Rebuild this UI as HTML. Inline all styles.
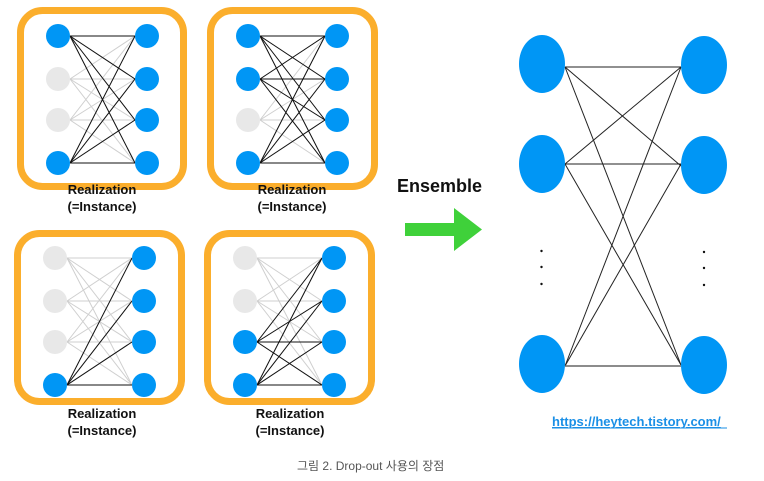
<!DOCTYPE html>
<html><head><meta charset="utf-8"><style>
html,body{margin:0;padding:0;background:#fff;}
svg{display:block;}
</style></head><body>
<svg width="764" height="481" viewBox="0 0 764 481" xmlns="http://www.w3.org/2000/svg">
<defs>
<g id="mesh" stroke="#cfcfcf" stroke-width="1">
<line x1="70" y1="36" x2="135" y2="36"/><line x1="70" y1="36" x2="135" y2="79"/><line x1="70" y1="36" x2="135" y2="120"/><line x1="70" y1="36" x2="135" y2="163"/>
<line x1="70" y1="79" x2="135" y2="36"/><line x1="70" y1="79" x2="135" y2="79"/><line x1="70" y1="79" x2="135" y2="120"/><line x1="70" y1="79" x2="135" y2="163"/>
<line x1="70" y1="120" x2="135" y2="36"/><line x1="70" y1="120" x2="135" y2="79"/><line x1="70" y1="120" x2="135" y2="120"/><line x1="70" y1="120" x2="135" y2="163"/>
<line x1="70" y1="163" x2="135" y2="36"/><line x1="70" y1="163" x2="135" y2="79"/><line x1="70" y1="163" x2="135" y2="120"/><line x1="70" y1="163" x2="135" y2="163"/>
</g>
<g id="b0" stroke="#111" stroke-width="1"><line x1="70" y1="36" x2="135" y2="36"/><line x1="70" y1="36" x2="135" y2="79"/><line x1="70" y1="36" x2="135" y2="120"/><line x1="70" y1="36" x2="135" y2="163"/></g>
<g id="b1" stroke="#111" stroke-width="1"><line x1="70" y1="79" x2="135" y2="36"/><line x1="70" y1="79" x2="135" y2="79"/><line x1="70" y1="79" x2="135" y2="120"/><line x1="70" y1="79" x2="135" y2="163"/></g>
<g id="b2" stroke="#111" stroke-width="1"><line x1="70" y1="120" x2="135" y2="36"/><line x1="70" y1="120" x2="135" y2="79"/><line x1="70" y1="120" x2="135" y2="120"/><line x1="70" y1="120" x2="135" y2="163"/></g>
<g id="b3" stroke="#111" stroke-width="1"><line x1="70" y1="163" x2="135" y2="36"/><line x1="70" y1="163" x2="135" y2="79"/><line x1="70" y1="163" x2="135" y2="120"/><line x1="70" y1="163" x2="135" y2="163"/></g>
<g id="rn" fill="#0096f5"><circle cx="147" cy="36" r="12"/><circle cx="147" cy="79" r="12"/><circle cx="147" cy="120" r="12"/><circle cx="147" cy="163" r="12"/></g>
</defs>
<g fill="none" stroke="#fbae2c" stroke-width="7">
<rect x="20.5" y="10.5" width="163" height="176" rx="22"/>
<rect x="210.5" y="10.5" width="164" height="176" rx="22"/>
<rect x="17.5" y="233.5" width="164" height="168" rx="22"/>
<rect x="207.5" y="233.5" width="164" height="168" rx="22"/>
</g>
<!-- panel 1 -->
<use href="#mesh"/><use href="#b0"/><use href="#b3"/><use href="#rn"/>
<circle cx="58" cy="36" r="12" fill="#0096f5"/><circle cx="58" cy="79" r="12" fill="#e8e8e8"/><circle cx="58" cy="120" r="12" fill="#e8e8e8"/><circle cx="58" cy="163" r="12" fill="#0096f5"/>
<!-- panel 2 -->
<g transform="translate(190,0)">
<use href="#mesh"/><use href="#b0"/><use href="#b1"/><use href="#b3"/><use href="#rn"/>
<circle cx="58" cy="36" r="12" fill="#0096f5"/><circle cx="58" cy="79" r="12" fill="#0096f5"/><circle cx="58" cy="120" r="12" fill="#e8e8e8"/><circle cx="58" cy="163" r="12" fill="#0096f5"/>
</g>
<!-- panel 3 -->
<g transform="translate(-3,222)">
<use href="#mesh"/><use href="#b3"/><use href="#rn"/>
<circle cx="58" cy="36" r="12" fill="#e8e8e8"/><circle cx="58" cy="79" r="12" fill="#e8e8e8"/><circle cx="58" cy="120" r="12" fill="#e8e8e8"/><circle cx="58" cy="163" r="12" fill="#0096f5"/>
</g>
<!-- panel 4 -->
<g transform="translate(187,222)">
<use href="#mesh"/><use href="#b2"/><use href="#b3"/><use href="#rn"/>
<circle cx="58" cy="36" r="12" fill="#e8e8e8"/><circle cx="58" cy="79" r="12" fill="#e8e8e8"/><circle cx="58" cy="120" r="12" fill="#0096f5"/><circle cx="58" cy="163" r="12" fill="#0096f5"/>
</g>
<g font-family="Liberation Sans, sans-serif" font-weight="bold" font-size="13" fill="#111" text-anchor="middle">
<text x="102" y="194">Realization</text><text x="102" y="211">(=Instance)</text>
<text x="292" y="194">Realization</text><text x="292" y="211">(=Instance)</text>
<text x="102" y="418">Realization</text><text x="102" y="435">(=Instance)</text>
<text x="290" y="418">Realization</text><text x="290" y="435">(=Instance)</text>
</g>
<text x="397" y="192" font-family="Liberation Sans, sans-serif" font-weight="bold" font-size="18" fill="#111">Ensemble</text>
<polygon points="405,223 454,223 454,208 482,229.5 454,251 454,236 405,236" fill="#3fd13a"/>
<!-- big net -->
<g stroke="#222" stroke-width="1">
<line x1="565" y1="67" x2="681" y2="67"/><line x1="565" y1="67" x2="681" y2="166"/><line x1="565" y1="67" x2="681" y2="365"/>
<line x1="565" y1="164" x2="681" y2="67"/><line x1="565" y1="164" x2="681" y2="164"/><line x1="565" y1="164" x2="681" y2="365"/>
<line x1="565" y1="366" x2="681" y2="67"/><line x1="565" y1="366" x2="681" y2="164"/>
</g>
<line x1="565" y1="366" x2="681" y2="366" stroke="#666" stroke-width="1.5"/>
<g fill="#0096f5">
<ellipse cx="542" cy="64" rx="23" ry="29"/><ellipse cx="542" cy="164" rx="23" ry="29"/><ellipse cx="542" cy="364" rx="23" ry="29"/>
<ellipse cx="704" cy="65" rx="23" ry="29"/><ellipse cx="704" cy="165" rx="23" ry="29"/><ellipse cx="704" cy="365" rx="23" ry="29"/>
</g>
<g fill="#111">
<circle cx="541.5" cy="251" r="1.2"/><circle cx="541.5" cy="267" r="1.2"/><circle cx="541.5" cy="284" r="1.2"/>
<circle cx="704" cy="252" r="1.2"/><circle cx="704" cy="268" r="1.2"/><circle cx="704" cy="285" r="1.2"/>
</g>
<text x="552" y="426" font-family="Liberation Sans, sans-serif" font-weight="bold" font-size="13" fill="#1a8fe6" text-decoration="underline">https://heytech.tistory.com/</text>
<line x1="552" y1="428" x2="727" y2="428" stroke="#1a8fe6" stroke-width="1"/>
<text x="297" y="470" font-family="Liberation Sans, Noto Sans CJK KR, sans-serif" font-size="12" fill="#555">그림 2. Drop-out 사용의 장점</text>
</svg>
</body></html>
